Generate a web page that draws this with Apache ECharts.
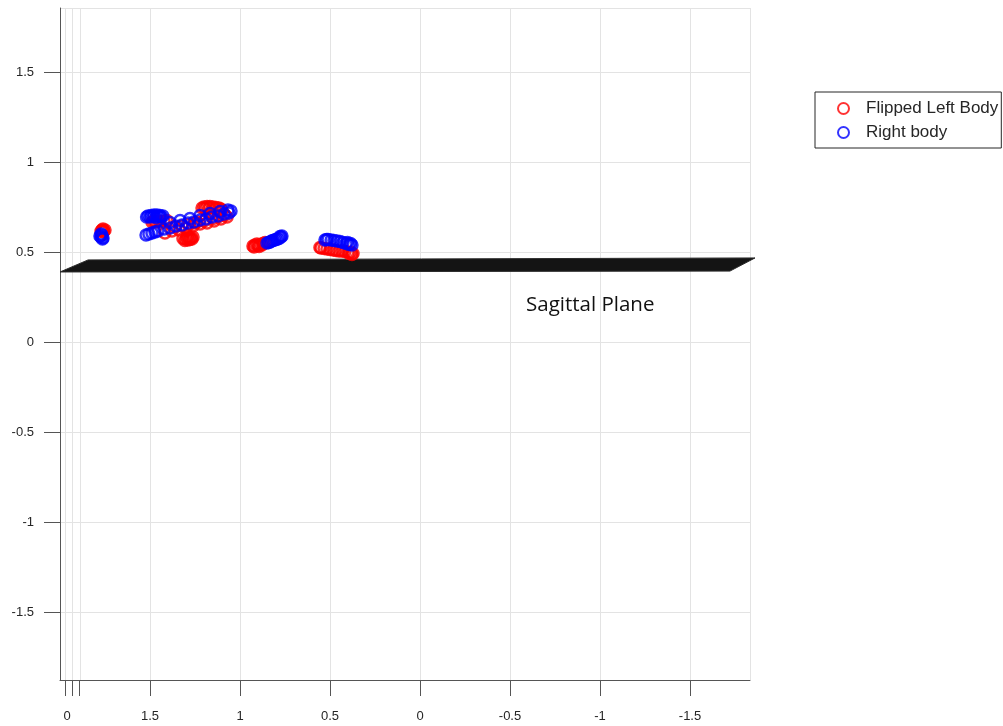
<!DOCTYPE html>
<html>
<head>
<meta charset="utf-8">
<script src="https://cdn.jsdelivr.net/npm/echarts@6/dist/echarts.min.js"></script>
<style>
html,body{margin:0;padding:0;background:#fff;}
#chart{width:1003px;height:726px;}
</style>
</head>
<body>
<div id="chart"></div>
<script>
// Flipped Left Body (red)
const leftBody = [
  [1.767,0.622],[1.756,0.617],[1.750,0.622],[1.761,0.611],[1.772,0.615],[1.761,0.628],
  [1.489,0.667],[1.467,0.667],[1.444,0.669],[1.422,0.672],[1.406,0.675],[1.478,0.672],[1.456,0.672],
  [1.200,0.750],[1.183,0.753],[1.167,0.753],[1.150,0.750],[1.133,0.747],[1.117,0.744],[1.106,0.739],[1.194,0.742],[1.172,0.744],[1.100,0.730],[1.211,0.744],[1.139,0.740],
  [1.300,0.572],[1.289,0.567],[1.278,0.569],[1.272,0.578],[1.294,0.583],[1.283,0.580],[1.317,0.575],[1.306,0.564],[1.267,0.572],[1.261,0.583],
  [1.417,0.606],[1.378,0.617],[1.339,0.622],[1.300,0.633],[1.261,0.644],[1.222,0.656],[1.183,0.661],[1.144,0.672],[1.106,0.683],[1.072,0.694],
  [1.361,0.639],[1.250,0.661],[1.200,0.672],[1.150,0.686],[1.322,0.644],[1.283,0.653],[1.239,0.667],[1.117,0.697],[1.083,0.706],
  [0.928,0.533],[0.917,0.539],[0.900,0.536],[0.889,0.542],[0.906,0.544],[0.872,0.547],[0.861,0.553],[0.922,0.528],[0.894,0.531],[0.878,0.539],
  [0.556,0.525],[0.550,0.522],[0.533,0.519],[0.517,0.517],[0.500,0.514],[0.483,0.511],[0.467,0.508],[0.450,0.506],[0.433,0.506],[0.417,0.503],[0.400,0.500],[0.383,0.497],[0.372,0.492],[0.378,0.486],[0.394,0.492]
];
// Right body (blue)
const rightBody = [
  [1.767,0.594],[1.772,0.583],[1.761,0.578],[1.772,0.600],[1.778,0.589],[1.764,0.572],
  [1.511,0.700],[1.494,0.703],[1.478,0.706],[1.461,0.706],[1.444,0.703],[1.428,0.700],[1.500,0.694],[1.467,0.692],[1.439,0.694],[1.519,0.694],[1.483,0.697],[1.450,0.697],
  [1.522,0.595],[1.506,0.600],[1.489,0.606],[1.472,0.611],[1.456,0.617],[1.422,0.628],[1.389,0.633],[1.356,0.644],[1.322,0.650],[1.289,0.661],[1.256,0.667],[1.222,0.678],[1.189,0.683],[1.156,0.694],[1.122,0.700],[1.089,0.711],[1.061,0.717],
  [1.389,0.664],[1.333,0.675],[1.278,0.686],[1.222,0.703],[1.167,0.714],[1.111,0.725],[1.067,0.733],[1.050,0.728],
  [0.850,0.550],[0.841,0.553],[0.833,0.556],[0.825,0.561],[0.817,0.564],[0.808,0.567],[0.800,0.569],[0.792,0.572],[0.783,0.575],[0.772,0.583],[0.767,0.589],[0.778,0.586],
  [0.528,0.567],[0.519,0.569],[0.511,0.569],[0.494,0.567],[0.478,0.564],[0.461,0.561],[0.444,0.558],[0.428,0.553],[0.411,0.547],[0.394,0.542],[0.378,0.539],[0.386,0.547],[0.403,0.553]
];
// Sagittal plane outline (x, y)
const planeX = [2.0, 1.844, -1.861, -1.722];
const planeY = [0.389, 0.456, 0.467, 0.394];
// Axis extents & tick labels
const xRange = [-1.8333, 2.0];
const yRange = [-1.8778, 1.8556];
const extraXTicks = [1.972, 1.933, 1.894];
const extraXLabel = [1.961];
const seriesNames = ['Flipped Left Body', 'Right body'];
const planeLabel = 'Sagittal Plane';

const chart = echarts.init(document.getElementById('chart'), null, {renderer: 'canvas'});
const axisTxt = {color: '#262626', fontSize: 13, fontFamily: 'Liberation Sans, Arial, sans-serif'};
chart.setOption({
  animation: false,
  backgroundColor: '#fff',
  grid: {left: 60, right: 253, top: 8, bottom: 46, containLabel: false},
  legend: {
    data: seriesNames,
    orient: 'vertical',
    left: 815, top: 92,
    padding: [8, 3, 7, 22],
    itemGap: 7,
    itemWidth: 11, itemHeight: 11,
    borderColor: '#262626', borderWidth: 1, borderRadius: 0,
    backgroundColor: '#fff',
    textStyle: {fontSize: 17, lineHeight: 16, color: '#262626', fontFamily: 'Liberation Sans, Arial, sans-serif', padding: [0, 0, 0, 12]}
  },
  xAxis: [{
    type: 'value', inverse: true, min: xRange[0], max: xRange[1], splitNumber: 8,
    axisLine: {show: true, onZero: false, lineStyle: {color: '#555', width: 1}},
    axisTick: {show: true, length: 16, lineStyle: {color: '#555'}},
    axisLabel: {show: true, margin: 30, showMinLabel: false, showMaxLabel: false, ...axisTxt},
    splitLine: {show: true, lineStyle: {color: '#e3e3e3', width: 1}}
  }, {
    type: 'value', inverse: true, min: xRange[0], max: xRange[1], position: 'bottom',
    axisLine: {show: false, onZero: false},
    axisTick: {show: true, length: 16, customValues: extraXTicks, lineStyle: {color: '#555'}},
    axisLabel: {show: true, margin: 30, customValues: extraXLabel, formatter: () => '0', ...axisTxt},
    splitLine: {show: false}
  }],
  yAxis: {
    type: 'value', min: yRange[0], max: yRange[1], splitNumber: 8,
    axisLine: {show: true, onZero: false, lineStyle: {color: '#555', width: 1}},
    axisTick: {show: true, length: 16, lineStyle: {color: '#555'}},
    axisLabel: {show: true, margin: 26, showMinLabel: false, showMaxLabel: false, ...axisTxt},
    splitLine: {show: true, lineStyle: {color: '#e3e3e3', width: 1}}
  },
  graphic: [{
    type: 'text', left: 526, top: 295,
    style: {text: planeLabel, fontSize: 20.5, fontFamily: 'Open Sans, sans-serif', fill: '#111'}
  }],
  series: [{
    type: 'line', name: 'depthLines', data: [], silent: true, z: 0,
    markLine: {
      silent: true, symbol: 'none', label: {show: false}, z: 0,
      lineStyle: {color: '#e3e3e3', type: 'solid', width: 1},
      data: extraXTicks.map(v => ({xAxis: v}))
    }
  }, {
    type: 'custom', name: 'plane', clip: false, silent: true, z: 2,
    data: [[0]],
    renderItem: function (params, api) {
      const pts = planeX.map((x, i) => api.coord([x, planeY[i]]));
      return {type: 'polygon', shape: {points: pts}, style: {fill: '#141414', stroke: '#2a2a2a', lineWidth: 1}};
    }
  }, {
    type: 'scatter', name: seriesNames[0], data: leftBody, symbol: 'circle', symbolSize: 11, z: 3,
    itemStyle: {color: 'rgba(0,0,0,0)', borderColor: '#ff0000', borderWidth: 2.5}
  }, {
    type: 'scatter', name: seriesNames[1], data: rightBody, symbol: 'circle', symbolSize: 11, z: 4,
    itemStyle: {color: 'rgba(0,0,0,0)', borderColor: '#0000ff', borderWidth: 2.5}
  }]
});
</script>
</body>
</html>
